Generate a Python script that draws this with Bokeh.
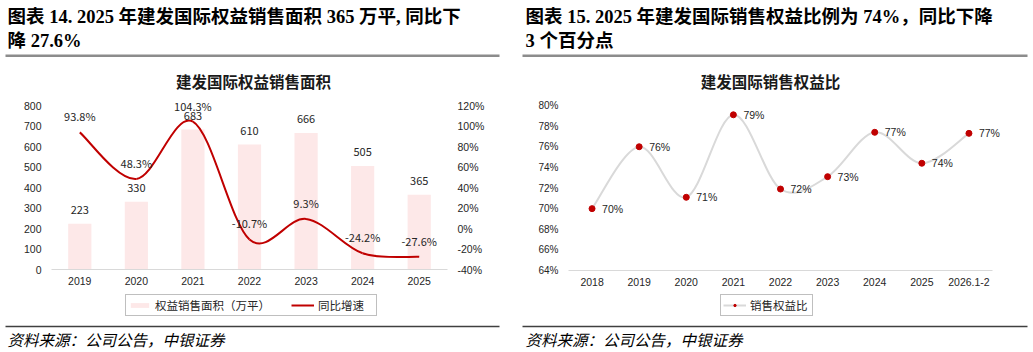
from bokeh.plotting import figure
from bokeh.models import (Range1d, LinearAxis, FixedTicker, PrintfTickFormatter, Legend,
                          LegendItem, Label, BoxAnnotation)
from bokeh.layouts import row
from bokeh.embed import file_html
from bokeh.resources import INLINE
from bokeh.core.properties import value

# ---------------- data ----------------
years_l = ["2019", "2020", "2021", "2022", "2023", "2024", "2025"]
area = [223, 330, 683, 610, 666, 505, 365]            # 权益销售面积（万平）
yoy = [93.8, 48.3, 104.3, -10.7, 9.3, -24.2, -27.6]    # 同比增速 %
area_ticks = [0, 100, 200, 300, 400, 500, 600, 700, 800]
yoy_ticks = [-40, -20, 0, 20, 40, 60, 80, 100, 120]

years_r = ["2018", "2019", "2020", "2021", "2022", "2023", "2024", "2025", "2026.1-2"]
ratio = [70.0, 76.0, 71.1, 79.1, 71.9, 73.1, 77.4, 74.4, 77.3]   # 销售权益比 %
ratio_ticks = [64, 66, 68, 70, 72, 74, 76, 78, 80]

title_l = ["图表 14. 2025 年建发国际权益销售面积 365 万平, 同比下", "降 27.6%"]
title_r = ["图表 15. 2025 年建发国际销售权益比例为 74%，同比下降", "3 个百分点"]
chart_title_l = "建发国际权益销售面积"
chart_title_r = "建发国际销售权益比"
source = "资料来源：公司公告，中银证券"

CJK = "Noto Sans CJK SC"
HEAD_FONT = "Liberation Serif, Noto Sans CJK SC"
TICK_FONT = "Liberation Sans"
RED = "#c00000"
H = 352


def smooth(xs, ys, k=1.0 / 6):
    n = len(xs)
    d = dict(x0=[], y0=[], x1=[], y1=[], cx0=[], cy0=[], cx1=[], cy1=[])
    for i in range(n - 1):
        xm, ym = (xs[i - 1], ys[i - 1]) if i > 0 else (xs[i], ys[i])
        xp, yp = (xs[i + 2], ys[i + 2]) if i + 2 < n else (xs[i + 1], ys[i + 1])
        d["x0"].append(xs[i]); d["y0"].append(ys[i])
        d["x1"].append(xs[i + 1]); d["y1"].append(ys[i + 1])
        d["cx0"].append(xs[i] + (xs[i + 1] - xm) * k)
        d["cy0"].append(ys[i] + (ys[i + 1] - ym) * k)
        d["cx1"].append(xs[i + 1] - (xp - xs[i]) * k)
        d["cy1"].append(ys[i + 1] - (yp - ys[i]) * k)
    return d


def make_fig(w, n, px0, px1, v0, v1, py0, py1):
    """Full-canvas frame; category i sits at the centre of slot i of [px0, px1];
    value v0 at page y py0, v1 at page y py1."""
    slot = (px1 - px0) / n
    xr = Range1d(-0.5 - px0 / slot, n - 0.5 + (w - px1) / slot)
    k = (py0 - py1) / (v1 - v0)
    yr = Range1d(v0 - (H - py0) / k, v1 + py1 / k)
    p = figure(width=w, height=H, x_range=xr, y_range=yr, output_backend="svg",
               toolbar_location=None, min_border=0, outline_line_color=None)
    p.xgrid.visible = False
    p.ygrid.visible = False
    return p


def style_axis(ax, size="10.5px", standoff=10):
    ax.axis_line_color = None
    ax.major_tick_line_color = None
    ax.minor_tick_line_color = None
    ax.major_tick_out = 0
    ax.major_tick_in = 0
    ax.minor_tick_out = 0
    ax.minor_tick_in = 0
    ax.major_label_text_font = TICK_FONT
    ax.major_label_text_font_size = size
    ax.major_label_text_color = "#262626"
    ax.major_label_standoff = standoff


def style_legend(lg, label_width):
    lg.orientation = "horizontal"
    lg.border_line_color = "#7f7f7f"
    lg.border_line_width = 1
    lg.background_fill_color = "white"
    lg.background_fill_alpha = 1
    lg.label_text_font = CJK
    lg.label_text_font_size = "11.5px"
    lg.label_text_color = "#262626"
    lg.glyph_width = 23
    lg.glyph_height = 6
    lg.label_height = 11
    lg.label_width = label_width
    lg.label_standoff = 4
    lg.spacing = 21
    lg.padding = 2
    lg.margin = 0


def decorate(p, head, tx, ctitle, cx, r0, r1):
    def sy(y):
        return H - y
    for txt, y in zip(head, [16, 40]):
        p.add_layout(Label(x=tx, y=sy(y), x_units="screen", y_units="screen", text=txt,
                           text_font=HEAD_FONT, text_font_style="bold", text_font_size="18.5px",
                           text_baseline="middle", text_align="left", text_color="#000000"))
    p.add_layout(Label(x=cx, y=sy(80), x_units="screen", y_units="screen", text=ctitle,
                       text_font=CJK, text_font_style="bold", text_font_size="15.5px",
                       text_baseline="middle", text_align="center", text_color="#1a1a1a"))
    p.add_layout(BoxAnnotation(left=r0, right=r1, top=sy(54), bottom=sy(56.5),
                               left_units="screen", right_units="screen",
                               top_units="screen", bottom_units="screen",
                               fill_color="#8c8c8c", fill_alpha=1, line_color=None))
    p.add_layout(BoxAnnotation(left=r0, right=r1, top=sy(325.3), bottom=sy(326.8),
                               left_units="screen", right_units="screen",
                               top_units="screen", bottom_units="screen",
                               fill_color="#404040", fill_alpha=1, line_color=None))
    p.add_layout(Label(x=tx, y=sy(338), x_units="screen", y_units="screen", text=source,
                       text_font=CJK, text_font_style="italic", text_font_size="15.5px",
                       text_baseline="middle", text_align="left", text_color="#000000"))


# ---------------- left chart ----------------
nL = len(years_l)
idx_l = list(range(nL))
pl = make_fig(516, nL, 51, 447, area_ticks[0], area_ticks[-1], 269, 105)
k_pct = (269 - 105) / (yoy_ticks[-1] - yoy_ticks[0])
pl.extra_y_ranges = {"pct": Range1d(yoy_ticks[0] - (H - 269) / k_pct, yoy_ticks[-1] + 105 / k_pct)}

bars = pl.vbar(x=idx_l, top=area, width=0.41, fill_color="#fde8e8", line_color=None)
curve_l = pl.bezier(line_color=RED, line_width=2, y_range_name="pct", **smooth(idx_l, yoy))
pl.text(x=idx_l, y=area, text=[str(a) for a in area], text_align="center",
        text_baseline="middle", y_offset=-13.5, text_font=value(CJK),
        text_font_size="11px", text_color="#262626")
pl.text(x=idx_l, y=yoy, text=[f"{v:.1f}%" for v in yoy], text_align="center",
        text_baseline="middle", y_offset=-16, text_font=value(CJK),
        text_font_size="11px", text_color="#262626", y_range_name="pct")

xa = pl.xaxis[0]
xa.ticker = FixedTicker(ticks=idx_l)
xa.major_label_overrides = {i: y for i, y in enumerate(years_l)}
style_axis(xa, standoff=7)
xa.axis_line_color = "#d9d9d9"
xa.fixed_location = area_ticks[0]
xa.bounds = (-0.5, nL - 0.5)
ya = pl.yaxis[0]
ya.ticker = FixedTicker(ticks=area_ticks)
style_axis(ya)
ya.fixed_location = -0.5
ya.bounds = (area_ticks[0], area_ticks[-1])
rax = LinearAxis(y_range_name="pct", ticker=FixedTicker(ticks=yoy_ticks),
                 formatter=PrintfTickFormatter(format="%d%%"))
style_axis(rax)
rax.fixed_location = nL - 0.5
rax.bounds = (yoy_ticks[0], yoy_ticks[-1])
pl.add_layout(rax, "right")

lg_l = Legend(items=[LegendItem(label="权益销售面积（万平）", renderers=[bars]),
                     LegendItem(label="同比增速", renderers=[curve_l])],
              location=(125, H - 316))
style_legend(lg_l, 56)
pl.add_layout(lg_l)
decorate(pl, title_l, 7, chart_title_l, 253, 5, 499)

# ---------------- right chart ----------------
nR = len(years_r)
idx_r = list(range(nR))
pr = make_fig(517, nR, 52, 476, ratio_ticks[0], ratio_ticks[-1], 270, 105)

curve_r = pr.bezier(line_color="#d9d9d9", line_width=2, **smooth(idx_r, ratio))
dots = pr.scatter(x=idx_r, y=ratio, size=6, fill_color=RED, line_color=RED)
pr.text(x=idx_r, y=ratio, text=[f"{round(v)}%" for v in ratio], text_align="left",
        text_baseline="middle", x_offset=10, text_font=value(TICK_FONT),
        text_font_size="10.5px", text_color="#262626")

xb = pr.xaxis[0]
xb.ticker = FixedTicker(ticks=idx_r)
xb.major_label_overrides = {i: y for i, y in enumerate(years_r)}
style_axis(xb, standoff=7)
xb.axis_line_color = "#d9d9d9"
xb.fixed_location = ratio_ticks[0]
xb.bounds = (-0.5, nR - 0.5)
yb = pr.yaxis[0]
yb.ticker = FixedTicker(ticks=ratio_ticks)
yb.formatter = PrintfTickFormatter(format="%d%%")
style_axis(yb, "10px")
yb.fixed_location = -0.5
yb.bounds = (ratio_ticks[0], ratio_ticks[-1])

lg_r = Legend(items=[LegendItem(label="销售权益比", renderers=[curve_r, dots])],
              location=(720 - 516, H - 316))
style_legend(lg_r, 60)
pr.add_layout(lg_r)
decorate(pr, title_r, 9, chart_title_r, 254, 6, 511)

layout = row(pl, pr)
open("out.html", "w").write(file_html(layout, INLINE))
